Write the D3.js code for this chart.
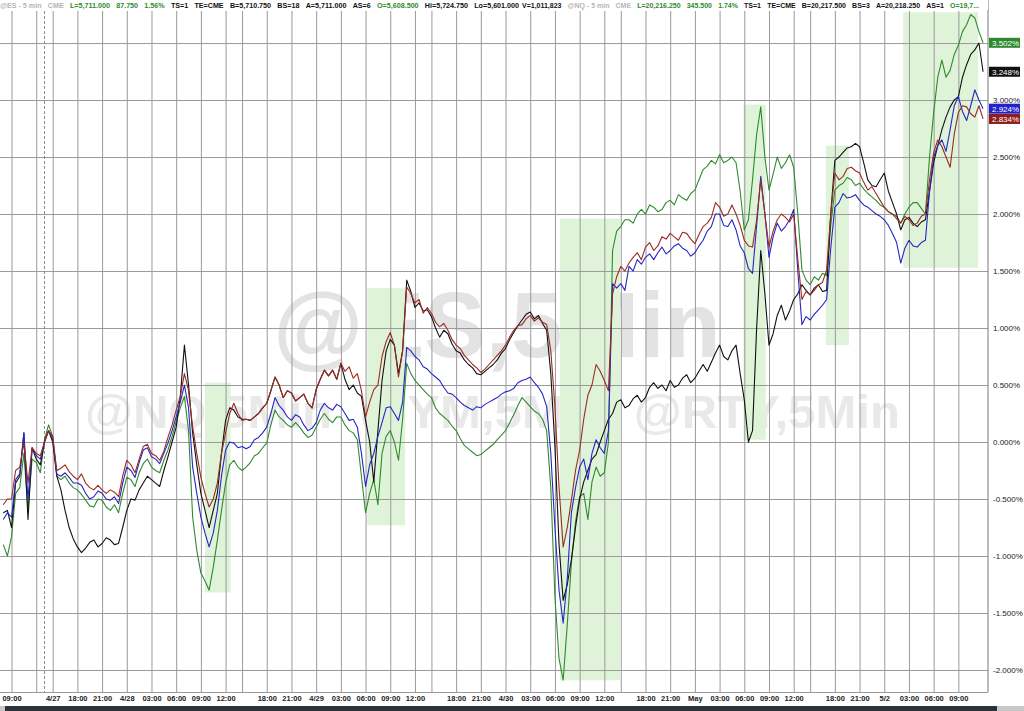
<!DOCTYPE html>
<html>
<head>
<meta charset="utf-8">
<script src="https://cdn.jsdelivr.net/npm/d3@7"></script>
<style>
    body { margin: 0; background: #fff; }
    svg { display: block; font-family: "Liberation Sans", Arial, sans-serif; }
</style>
</head>
<body>
<div id="chart"></div>
<script>
'use strict';

// trading hours since Fri 09:00, one point every half hour (sessions back to back)
var hours = d3.range(-1, 118.5, 0.5);

// % change
var greenLine = [
    -0.90, -1.00, -0.83, -0.45, -0.40, -0.10, -0.60, -0.15, -0.18, -0.27,
    0.02, 0.15, 0.05, -0.30, -0.33, -0.30, -0.36, -0.40, -0.42, -0.46,
    -0.51, -0.56, -0.57, -0.50, -0.51, -0.57, -0.60, -0.55, -0.62, -0.45,
    -0.31, -0.33, -0.39, -0.27, -0.19, -0.15, -0.22, -0.25, -0.27, -0.16,
    -0.07, 0.05, 0.18, 0.30, 0.40, 0.10, -0.66, -0.95, -1.15, -1.22,
    -1.30, -1.10, -0.86, -0.60, -0.36, -0.20, -0.16, -0.22, -0.25, -0.22,
    -0.18, -0.12, -0.10, -0.05, -0.01, 0.15, 0.28, 0.22, 0.19, 0.15,
    0.13, 0.17, 0.13, 0.08, 0.04, 0.06, 0.13, 0.20, 0.25, 0.20,
    0.17, 0.22, 0.22, 0.15, 0.10, 0.08, 0.02, -0.30, -0.62, -0.45,
    -0.33, -0.55, -0.10, 0.05, 0.10, 0.00, -0.16, 0.20, 0.69, 0.60,
    0.54, 0.50, 0.46, 0.42, 0.39, 0.30, 0.25, 0.22, 0.19, 0.14,
    0.10, 0.03, -0.03, -0.06, -0.09, -0.12, -0.11, -0.08, -0.05, -0.02,
    0.02, 0.06, 0.10, 0.17, 0.24, 0.32, 0.39, 0.35, 0.31, 0.27,
    0.25, 0.20, 0.10, -0.40, -1.36, -1.90, -2.09, -1.60, -1.06, -0.70,
    -0.48, -0.45, -0.68, -0.35, -0.22, -0.30, -0.27, 0.00, 1.68, 1.85,
    1.89, 1.95, 1.95, 1.92, 2.00, 2.04, 2.00, 2.08, 2.06, 2.02,
    2.04, 2.10, 2.12, 2.08, 2.17, 2.14, 2.12, 2.18, 2.21, 2.30,
    2.39, 2.42, 2.47, 2.44, 2.52, 2.45, 2.47, 2.50, 2.45, 2.20,
    1.86, 1.95, 2.30, 2.70, 2.94, 2.50, 2.21, 2.35, 2.50, 2.40,
    2.45, 2.52, 2.41, 2.00, 1.51, 1.42, 1.38, 1.45, 1.42, 1.48,
    1.46, 1.90, 2.21, 2.25, 2.27, 2.32, 2.30, 2.25, 2.27, 2.22,
    2.18, 2.15, 2.12, 2.08, 2.06, 2.02, 2.00, 1.98, 1.92, 2.00,
    2.06, 2.10, 2.10, 2.05, 2.00, 2.50, 2.89, 3.20, 3.35, 3.20,
    3.26, 3.40, 3.48, 3.60, 3.66, 3.75, 3.72, 3.60, 3.502
];

var blackLine = [
    -0.62, -0.60, -0.75, -0.36, -0.30, 0.08, -0.68, -0.05, -0.15, -0.20,
    0.00, 0.10, 0.00, -0.30, -0.42, -0.60, -0.75, -0.85, -0.92, -0.97,
    -0.93, -0.88, -0.86, -0.92, -0.89, -0.84, -0.86, -0.90, -0.89, -0.75,
    -0.60, -0.50, -0.51, -0.42, -0.36, -0.30, -0.33, -0.36, -0.39, -0.25,
    -0.13, 0.00, 0.13, 0.40, 0.85, 0.50, 0.08, -0.20, -0.45, -0.60,
    -0.75, -0.60, -0.45, -0.10, 0.19, 0.30, 0.28, 0.22, 0.20, 0.20,
    0.19, 0.22, 0.25, 0.30, 0.34, 0.45, 0.57, 0.50, 0.39, 0.45,
    0.43, 0.36, 0.39, 0.42, 0.34, 0.30, 0.46, 0.55, 0.63, 0.58,
    0.63, 0.55, 0.69, 0.55, 0.46, 0.50, 0.43, 0.40, 0.19, 0.00,
    -0.35, 0.10, 0.54, 0.80, 0.90, 0.85, 0.60, 0.80, 1.42, 1.32,
    1.18, 1.22, 1.15, 1.16, 1.10, 1.00, 0.92, 0.98, 0.95, 0.86,
    0.80, 0.78, 0.72, 0.68, 0.65, 0.60, 0.59, 0.62, 0.65, 0.68,
    0.72, 0.78, 0.82, 0.90, 0.96, 1.02, 1.07, 1.12, 1.14, 1.08,
    1.11, 1.04, 0.98, 0.60, -0.04, -0.90, -1.39, -1.25, -1.03, -0.75,
    -0.50, -0.35, -0.25, -0.15, -0.11, 0.00, 0.10, 0.20, 0.25, 0.35,
    0.37, 0.30, 0.32, 0.38, 0.41, 0.35, 0.39, 0.48, 0.52, 0.47,
    0.50, 0.45, 0.54, 0.48, 0.50, 0.56, 0.59, 0.52, 0.56, 0.62,
    0.68, 0.62, 0.70, 0.78, 0.85, 0.75, 0.72, 0.80, 0.85, 0.60,
    0.37, 0.00, 0.10, 1.00, 1.68, 1.30, 0.85, 0.95, 1.11, 1.20,
    1.07, 1.15, 1.25, 1.30, 1.38, 1.33, 1.29, 1.35, 1.38, 1.32,
    1.33, 2.00, 2.47, 2.50, 2.54, 2.58, 2.59, 2.62, 2.59, 2.45,
    2.30, 2.25, 2.24, 2.30, 2.36, 2.20, 2.10, 2.00, 1.86, 1.95,
    1.97, 1.92, 1.89, 1.93, 1.95, 2.20, 2.45, 2.60, 2.74, 2.85,
    2.94, 3.00, 3.03, 3.20, 3.31, 3.40, 3.44, 3.50, 3.248
];

var blueLine = [
    -0.68, -0.62, -0.66, -0.33, -0.28, 0.08, -0.50, -0.05, -0.12, -0.15,
    0.00, 0.10, 0.03, -0.28, -0.30, -0.27, -0.31, -0.36, -0.36, -0.38,
    -0.45, -0.50, -0.48, -0.43, -0.45, -0.50, -0.51, -0.48, -0.54, -0.36,
    -0.22, -0.25, -0.31, -0.18, -0.07, -0.05, -0.13, -0.15, -0.19, -0.10,
    -0.01, 0.10, 0.22, 0.35, 0.50, 0.30, -0.22, -0.45, -0.66, -0.80,
    -0.92, -0.80, -0.60, -0.30, -0.07, 0.00, -0.01, -0.05, -0.04, -0.06,
    -0.04, 0.02, 0.04, 0.08, 0.13, 0.25, 0.39, 0.32, 0.28, 0.22,
    0.19, 0.24, 0.22, 0.15, 0.10, 0.12, 0.17, 0.28, 0.34, 0.30,
    0.28, 0.33, 0.31, 0.25, 0.19, 0.20, 0.13, -0.10, -0.39, -0.20,
    -0.10, 0.05, 0.17, 0.30, 0.31, 0.25, 0.19, 0.35, 0.83, 0.80,
    0.75, 0.72, 0.66, 0.64, 0.60, 0.57, 0.54, 0.48, 0.43, 0.42,
    0.39, 0.35, 0.32, 0.30, 0.28, 0.31, 0.30, 0.33, 0.35, 0.37,
    0.39, 0.42, 0.44, 0.45, 0.47, 0.52, 0.54, 0.55, 0.57, 0.52,
    0.48, 0.42, 0.31, -0.10, -0.75, -1.30, -1.59, -1.20, -0.62, -0.40,
    -0.22, -0.15, -0.33, -0.10, 0.02, -0.05, -0.10, 0.10, 1.39, 1.35,
    1.39, 1.33, 1.54, 1.50, 1.60, 1.56, 1.62, 1.65, 1.60, 1.66,
    1.71, 1.65, 1.68, 1.72, 1.74, 1.70, 1.68, 1.63, 1.66, 1.72,
    1.77, 1.85, 1.89, 2.00, 2.00, 1.90, 1.89, 1.95, 1.86, 1.72,
    1.66, 1.52, 1.48, 1.90, 2.33, 2.00, 1.62, 1.80, 1.92, 1.85,
    1.89, 1.95, 2.04, 1.50, 1.03, 1.10, 1.07, 1.12, 1.16, 1.20,
    1.25, 1.70, 2.06, 2.10, 2.18, 2.14, 2.15, 2.17, 2.12, 2.08,
    2.06, 2.03, 2.00, 1.98, 1.95, 1.90, 1.83, 1.75, 1.57, 1.70,
    1.77, 1.72, 1.71, 1.75, 1.77, 2.20, 2.50, 2.60, 2.65, 2.55,
    2.74, 2.95, 3.03, 2.90, 2.82, 2.95, 3.09, 3.00, 2.924
];

var redLine = [
    -0.55, -0.50, -0.50, -0.25, -0.22, -0.01, -0.36, -0.05, -0.10, -0.12,
    0.00, 0.10, 0.05, -0.25, -0.23, -0.20, -0.26, -0.30, -0.33, -0.28,
    -0.36, -0.40, -0.42, -0.38, -0.42, -0.45, -0.42, -0.44, -0.48, -0.30,
    -0.16, -0.20, -0.27, -0.15, -0.04, -0.02, -0.10, -0.12, -0.16, -0.08,
    0.04, 0.15, 0.28, 0.40, 0.60, 0.45, 0.13, -0.10, -0.31, -0.45,
    -0.57, -0.50, -0.36, -0.10, 0.08, 0.25, 0.34, 0.25, 0.19, 0.20,
    0.19, 0.22, 0.25, 0.30, 0.34, 0.45, 0.57, 0.50, 0.39, 0.45,
    0.43, 0.36, 0.39, 0.42, 0.34, 0.30, 0.46, 0.55, 0.63, 0.58,
    0.63, 0.55, 0.69, 0.62, 0.66, 0.56, 0.60, 0.45, 0.22, 0.35,
    0.46, 0.50, 0.75, 0.88, 0.96, 0.85, 0.57, 0.80, 1.36, 1.30,
    1.22, 1.25, 1.13, 1.18, 1.13, 1.05, 1.01, 1.04, 0.98, 0.90,
    0.85, 0.82, 0.76, 0.72, 0.68, 0.65, 0.61, 0.64, 0.68, 0.72,
    0.76, 0.80, 0.85, 0.92, 0.98, 1.02, 1.03, 1.08, 1.11, 1.06,
    1.09, 1.05, 1.03, 0.80, 0.31, -0.40, -0.92, -0.75, -0.51, -0.25,
    -0.07, 0.20, 0.41, 0.50, 0.68, 0.62, 0.54, 0.45, 1.30, 1.45,
    1.54, 1.50, 1.57, 1.62, 1.66, 1.60, 1.71, 1.75, 1.68, 1.72,
    1.80, 1.78, 1.83, 1.80, 1.77, 1.84, 1.83, 1.78, 1.74, 1.82,
    1.89, 1.92, 1.97, 2.10, 2.06, 1.98, 2.00, 2.08, 2.00, 1.90,
    1.77, 1.72, 1.71, 1.95, 2.30, 2.00, 1.71, 1.85, 1.95, 2.00,
    1.97, 1.93, 2.00, 1.60, 1.25, 1.32, 1.29, 1.33, 1.38, 1.40,
    1.51, 2.00, 2.36, 2.30, 2.33, 2.40, 2.41, 2.38, 2.36, 2.28,
    2.21, 2.24, 2.18, 2.12, 2.06, 2.02, 2.00, 1.96, 1.92, 1.98,
    1.95, 1.90, 1.92, 1.98, 2.00, 2.30, 2.54, 2.65, 2.59, 2.50,
    2.41, 2.70, 2.89, 2.95, 2.94, 2.88, 2.85, 2.95, 2.834
];

// time axis: hour of each tick and its label ('' = session open, line only)
var tickHours = [0, 3, 5, 8, 11, 14, 17, 20, 23, 26,
    28, 31, 34, 37, 40, 43, 46, 49,
    51, 54, 57, 60, 63, 66, 69, 72,
    74, 77, 80, 83, 86, 89, 92, 95,
    97, 100, 103, 106, 109, 112, 115];
var tickLabels = ['09:00', '', '4/27', '18:00', '21:00', '4/28', '03:00', '06:00', '09:00', '12:00',
    '', '18:00', '21:00', '4/29', '03:00', '06:00', '09:00', '12:00',
    '', '18:00', '21:00', '4/30', '03:00', '06:00', '09:00', '12:00',
    '', '18:00', '21:00', 'May', '03:00', '06:00', '09:00', '12:00',
    '', '18:00', '21:00', '5/2', '03:00', '06:00', '09:00'];
var weekBreak = 4;

var pctTicks = [-2, -1.5, -1, -0.5, 0, 0.5, 1, 1.5, 2, 2.5, 3, 3.5];

// shaded boxes: [from hour, to hour, low %, high %]
var boxes = [
    [23.5, 26.6, -1.32, 0.52],
    [43.2, 47.8, -0.73, 1.35],
    [66.6, 73.9, -2.09, 1.96],
    [88.9, 91.6, 0.02, 2.96],
    [98.9, 101.7, 0.85, 2.60],
    [108.3, 117.4, 1.53, 3.77]
];

var lastValues = [3.502, 3.248, 2.924, 2.834];

var colors = {green: '#2f8a2f', black: '#111111', blue: '#2626c4', red: '#9c2a22', grey: '#b5b5b5'};

// quote strip, one entry per word group
var hdrLeft = [
    ['@ES - 5 min', colors.grey], ['CME', colors.grey],
    ['L=5,711.000', colors.green], ['87.750', colors.green], ['1.56%', colors.green],
    ['TS=1', colors.black], ['TE=CME', colors.black], ['B=5,710.750', colors.black],
    ['BS=18', colors.black], ['A=5,711.000', colors.black], ['AS=6', colors.black],
    ['O=5,608.500', colors.green],
    ['Hi=5,724.750', colors.black], ['Lo=5,601.000', colors.black]
];
var hdrRight = [
    ['V=1,011,823', colors.black],
    ['@NQ - 5 min', colors.grey], ['CME', colors.grey],
    ['L=20,216.250', colors.green], ['345.500', colors.green], ['1.74%', colors.green],
    ['TS=1', colors.black], ['TE=CME', colors.black], ['B=20,217.500', colors.black],
    ['BS=3', colors.black], ['A=20,218.250', colors.black], ['AS=1', colors.black],
    ['O=19,7...', colors.green]
];


var width = 1024, height = 711;
var plotRight = 988, plotTop = 11, plotBottom = 692;

var svg = d3.select('#chart').append('svg')
    .attr('width', width)
    .attr('height', height);

svg.append('rect').attr('width', width).attr('height', height).attr('fill', '#fff');

var x = d3.scaleLinear().domain([-1.4, 118.6]).range([0, plotRight]);
var y = d3.scaleLinear().domain([-2.193, 3.781]).range([plotBottom, plotTop]);

// watermarks
svg.append('text')
    .attr('x', 497).attr('y', 357)
    .attr('text-anchor', 'middle')
    .style('font-size', '92px')
    .style('font-weight', 'bold')
    .attr('fill', '#e3e3e3')
    .text('@ES,5Min');

svg.append('text')
    .attr('x', 85).attr('y', 428)
    .attr('textLength', 815)
    .attr('lengthAdjust', 'spacingAndGlyphs')
    .style('font-size', '47px')
    .style('font-weight', 'bold')
    .style('white-space', 'pre')
    .attr('fill', '#e9e9e9')
    .text('@NQ,5Min  @YM,5Min  @RTY,5Min');

// green boxes
svg.append('g').selectAll('rect')
    .data(boxes)
    .enter().append('rect')
    .attr('x', function (d) { return x(d[0]); })
    .attr('width', function (d) { return x(d[1]) - x(d[0]); })
    .attr('y', function (d) { return y(d[3]); })
    .attr('height', function (d) { return y(d[2]) - y(d[3]); })
    .attr('fill', '#def3d8');

// horizontal grid + right labels
var yAxis = svg.append('g')
    .attr('transform', 'translate(' + plotRight + ',0)')
    .call(d3.axisRight(y)
        .tickValues(pctTicks)
        .tickSize(-plotRight)
        .tickPadding(5)
        .tickFormat(function (d) {
            return (d < 0 ? '-' : '') + Math.abs(d).toFixed(3) + '%';
        }));
yAxis.select('.domain').remove();
yAxis.selectAll('line').attr('stroke', '#9a9a9a');
yAxis.selectAll('text')
    .attr('fill', '#222')
    .style('font-size', '8px');

// vertical grid + time labels
var xAxis = svg.append('g')
    .attr('transform', 'translate(0,' + plotBottom + ')')
    .call(d3.axisBottom(x)
        .tickValues(tickHours)
        .tickSize(-(plotBottom - plotTop))
        .tickPadding(4)
        .tickFormat(function (d, i) { return tickLabels[i]; }));
xAxis.select('.domain').remove();
xAxis.selectAll('line').attr('stroke', '#9a9a9a');
xAxis.selectAll('text')
    .attr('fill', '#222')
    .style('font-size', '7.5px')
    .style('font-weight', 'bold');

svg.append('line')
    .attr('x1', x(weekBreak)).attr('x2', x(weekBreak))
    .attr('y1', plotTop).attr('y2', plotBottom)
    .attr('stroke', '#888')
    .attr('stroke-dasharray', '3,2');

// frame
svg.append('line')
    .attr('x1', plotRight).attr('x2', plotRight)
    .attr('y1', 0).attr('y2', plotBottom)
    .attr('stroke', '#777');
svg.append('line')
    .attr('x1', 0).attr('x2', plotRight)
    .attr('y1', plotBottom + 0.5).attr('y2', plotBottom + 0.5)
    .attr('stroke', '#999');

// the four lines
var line = d3.line()
    .x(function (d, i) { return x(hours[i]); })
    .y(function (d) { return y(d); });

var series = [
    {values: greenLine, color: colors.green},
    {values: blackLine, color: colors.black},
    {values: blueLine, color: colors.blue},
    {values: redLine, color: colors.red}
];

svg.append('g').selectAll('path')
    .data(series)
    .enter().append('path')
    .attr('d', function (d) { return line(d.values); })
    .attr('fill', 'none')
    .attr('stroke', function (d) { return d.color; })
    .attr('stroke-width', 1.1)
    .attr('stroke-linejoin', 'round');

// last value badges
var badgeColors = [colors.green, colors.black, '#2222cc', '#8e1d1d'];
var badge = svg.append('g').selectAll('g')
    .data(lastValues)
    .enter().append('g')
    .attr('transform', function (d) { return 'translate(989,' + (y(d) - 5) + ')'; });
badge.append('rect')
    .attr('width', 31).attr('height', 10)
    .attr('fill', function (d, i) { return badgeColors[i]; });
badge.append('text')
    .attr('x', 3).attr('y', 8)
    .attr('fill', '#fff')
    .style('font-size', '8px')
    .text(function (d) { return d.toFixed(3) + '%'; });

// header strip: natural widths, then squeezed to fit the span
svg.append('rect').attr('width', plotRight).attr('height', plotTop - 1).attr('fill', '#fff');
function header(parts, x0, len) {
    var g = svg.append('g');
    var texts = parts.map(function (p) {
        return g.append('text')
            .attr('y', 8)
            .attr('fill', p[1])
            .style('font-size', '8px')
            .style('font-weight', 'bold')
            .text(p[0]);
    });
    var widths = texts.map(function (t) { return t.node().getComputedTextLength(); });
    var gap = 7;
    var k = len / (d3.sum(widths) + gap * (parts.length - 1));
    var pos = x0;
    texts.forEach(function (t, i) {
        t.attr('x', pos)
            .attr('textLength', widths[i] * k)
            .attr('lengthAdjust', 'spacingAndGlyphs');
        pos += (widths[i] + gap) * k;
    });
}
header(hdrLeft, 0, 519);
header(hdrRight, 522, 457);

// scroll bar at the bottom
svg.append('rect')
    .attr('x', 0).attr('y', 706).attr('width', width).attr('height', 5)
    .attr('fill', '#2c333c');
svg.append('rect')
    .attr('x', 0).attr('y', 706).attr('width', 5).attr('height', 5)
    .attr('fill', '#c8c8c8');
svg.append('rect')
    .attr('x', 997).attr('y', 706).attr('width', 27).attr('height', 5)
    .attr('fill', '#c8c8c8');
</script>
</body>
</html>
